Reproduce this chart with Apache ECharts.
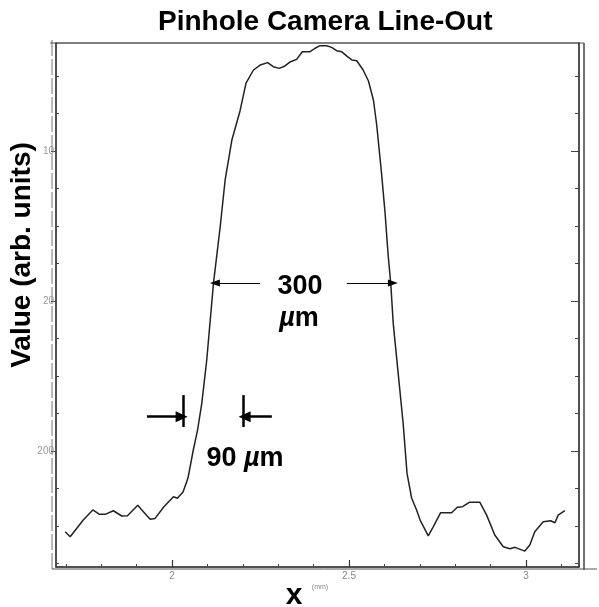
<!DOCTYPE html>
<html>
<head>
<meta charset="utf-8">
<script src="https://cdn.jsdelivr.net/npm/echarts@6/dist/echarts.min.js"></script>
<style>
  html, body { margin: 0; padding: 0; background: #fff; }
  #chart { width: 599px; height: 607px; }
</style>
</head>
<body>
<div id="chart"></div>
<script>
// line-out (x in mm, value in arb. units)
var xs = [1.698, 1.712, 1.749, 1.776, 1.795, 1.811, 1.834, 1.858, 1.874, 1.903,
  1.919, 1.938, 1.952, 1.977, 2.004, 2.015, 2.031, 2.045, 2.060, 2.072,
  2.084, 2.098, 2.117, 2.136, 2.150, 2.169, 2.192, 2.209, 2.230, 2.249,
  2.270, 2.286, 2.303, 2.319, 2.333, 2.352, 2.368, 2.390, 2.404, 2.418,
  2.437, 2.451, 2.465, 2.479, 2.494, 2.508, 2.522, 2.540, 2.555, 2.569,
  2.578, 2.592, 2.602, 2.611, 2.618, 2.625, 2.639, 2.653, 2.664, 2.677,
  2.691, 2.701, 2.724, 2.738, 2.759, 2.790, 2.806, 2.821, 2.840, 2.870,
  2.889, 2.912, 2.936, 2.955, 2.969, 2.997, 3.011, 3.025, 3.049, 3.070,
  3.082, 3.091, 3.110];
var values = [146.2, 142.9, 154.0, 160.7, 157.8, 157.8, 160.2, 156.7, 156.9, 163.8,
  159.5, 154.5, 155.1, 162.9, 169.5, 168.5, 172.7, 182.0, 200.7, 214.0,
  231.8, 260.7, 311.8, 349.5, 380.7, 407.3, 426.7, 445.3, 454.0, 457.3,
  458.9, 456.2, 455.1, 456.7, 459.3, 461.1, 466.2, 466.2, 468.5, 470.2,
  470.2, 469.1, 466.9, 466.2, 463.3, 460.7, 460.2, 454.0, 446.7, 434.0,
  418.0, 385.1, 358.5, 329.5, 311.8, 285.1, 251.8, 218.5, 185.1, 168.7,
  160.7, 154.0, 143.5, 149.5, 158.9, 158.9, 162.5, 162.9, 165.8, 165.8,
  157.3, 144.0, 136.2, 134.9, 135.8, 133.3, 137.3, 146.2, 152.9, 153.5,
  152.2, 157.3, 160.2];

var xMajorTicks = [2, 2.5, 3];
var xTickLabels = ['2', '2.5', '3'];
var xMinorTicks = [1.7, 1.8, 1.9, 2.1, 2.2, 2.3, 2.4, 2.6, 2.7, 2.8, 2.9, 3.1];
var yMajorTicks = [200, 300, 400];
var yTickLabels = ['200', '20', '10'];   // as printed on the scan
var yMinorTicks = [125, 150, 175, 225, 250, 275, 325, 350, 375, 425, 450];

// width markers: [from x, to x, at value]
var arrows300 = [[2.249, 2.121, 312], [2.494, 2.624, 312]];
var arrows90 = [[1.929, 2.027, 222.9], [2.282, 2.205, 222.9]];
var bars90 = [[2.032, 216, 237.3], [2.200, 216, 237.3]];

var X_MIN = 1.672, X_MAX = 3.15, Y_MIN = 122.7, Y_MAX = 472;
var FONT = '"Liberation Sans", Arial, sans-serif';

function pickLabel(ticks, labels) {
  return function (v) {
    for (var i = 0; i < ticks.length; i++) {
      if (Math.abs(ticks[i] - v) < 1e-6) return labels[i];
    }
    return '';
  };
}

var lineData = xs.map(function (x, i) { return [x, values[i]]; });

var markData = [];
arrows300.forEach(function (a) {
  markData.push([
    { coord: [a[0], a[2]], symbol: 'none' },
    { coord: [a[1], a[2]], symbol: 'triangle', symbolSize: [7, 10], symbolRotate: a[1] < a[0] ? 90 : -90,
      lineStyle: { width: 1 } }
  ]);
});
arrows90.forEach(function (a) {
  markData.push([
    { coord: [a[0], a[2]], symbol: 'none' },
    { coord: [a[1], a[2]], symbol: 'triangle', symbolSize: [11, 12], symbolRotate: a[1] < a[0] ? 90 : -90,
      lineStyle: { width: 2.5 } }
  ]);
});
bars90.forEach(function (b) {
  markData.push([
    { coord: [b[0], b[1]], symbol: 'none' },
    { coord: [b[0], b[2]], symbol: 'none', lineStyle: { width: 2.5 } }
  ]);
});

var baseX = { type: 'value', min: X_MIN, max: X_MAX, position: 'bottom',
  splitLine: { show: false } };
var baseY = { type: 'value', min: Y_MIN, max: Y_MAX, splitLine: { show: false } };

var option = {
  animation: false,
  backgroundColor: '#fff',
  title: {
    text: 'Pinhole Camera Line-Out',
    left: 153,
    top: 3,
    textStyle: { fontFamily: FONT, fontSize: 28, fontWeight: 'bold', color: '#000' }
  },
  grid: { left: 56, right: 20, top: 43, bottom: 40, show: true, borderColor: '#555', borderWidth: 1 },
  xAxis: [
    Object.assign({}, baseX, {
      axisLine: { show: true, onZero: false, lineStyle: { color: '#333', width: 1.5 } },
      axisTick: { show: true, inside: true, length: 7, customValues: xMajorTicks,
        lineStyle: { color: '#333', width: 1.2 } },
      axisLabel: { show: true, customValues: xMajorTicks, formatter: pickLabel(xMajorTicks, xTickLabels),
        fontFamily: FONT, fontSize: 10, color: '#888', margin: 4 }
    }),
    Object.assign({}, baseX, {
      axisLine: { show: false, onZero: false },
      axisTick: { show: true, inside: true, length: 3, customValues: xMinorTicks,
        lineStyle: { color: '#444', width: 1 } },
      axisLabel: { show: false }
    })
  ],
  yAxis: [
    Object.assign({}, baseY, {
      position: 'left',
      axisLine: { show: true, onZero: false, lineStyle: { color: '#333', width: 1.5 } },
      axisTick: { show: true, inside: false, length: 5, customValues: yMajorTicks,
        lineStyle: { color: '#444', width: 1 } },
      axisLabel: { show: true, customValues: yMajorTicks, formatter: pickLabel(yMajorTicks, yTickLabels),
        fontFamily: FONT, fontSize: 10, color: '#999', margin: 2 }
    }),
    Object.assign({}, baseY, {
      position: 'left',
      axisLine: { show: false, onZero: false },
      axisTick: { show: true, inside: true, length: 3, customValues: yMinorTicks,
        lineStyle: { color: '#444', width: 1 } },
      axisLabel: { show: false }
    }),
    Object.assign({}, baseY, {
      position: 'right',
      axisLine: { show: true, onZero: false, lineStyle: { color: '#333', width: 1.5 } },
      axisTick: { show: true, inside: true, length: 8, customValues: yMajorTicks,
        lineStyle: { color: '#444', width: 1 } },
      axisLabel: { show: false }
    }),
    Object.assign({}, baseY, {
      position: 'right',
      axisLine: { show: false, onZero: false },
      axisTick: { show: true, inside: true, length: 4, customValues: yMinorTicks,
        lineStyle: { color: '#444', width: 1 } },
      axisLabel: { show: false }
    })
  ],
  series: [{
    type: 'line',
    data: lineData,
    showSymbol: false,
    symbol: 'none',
    smooth: false,
    lineStyle: { color: '#222', width: 1.5 },
    markLine: {
      silent: true,
      symbol: 'none',
      label: { show: false },
      emphasis: { disabled: true },
      lineStyle: { color: '#000', type: 'solid', width: 1 },
      data: markData
    }
  }],
  graphic: [
    // scanned frame: outer rules
    { type: 'line', shape: { x1: 52, y1: 40, x2: 52, y2: 570 },
      style: { stroke: '#777', lineWidth: 1, lineDash: [16, 3] } },
    { type: 'line', shape: { x1: 584, y1: 43, x2: 584, y2: 570 },
      style: { stroke: '#444', lineWidth: 1.5 } },
    { type: 'line', shape: { x1: 52, y1: 569, x2: 597, y2: 569 },
      style: { stroke: '#555', lineWidth: 1 } },
    { type: 'line', shape: { x1: 50, y1: 43, x2: 584, y2: 43 },
      style: { stroke: '#555', lineWidth: 1 } },
    // axis titles
    { type: 'text', x: 22, y: 255, rotation: Math.PI / 2,
      style: { text: 'Value (arb. units)', font: 'bold 28px ' + FONT, fill: '#000',
        align: 'center', verticalAlign: 'middle' } },
    { type: 'text', x: 294, y: 596,
      style: { text: 'x', font: 'bold 30px ' + FONT, fill: '#000',
        align: 'center', verticalAlign: 'middle' } },
    { type: 'text', x: 320, y: 587,
      style: { text: '(mm)', font: '7px ' + FONT, fill: '#888',
        align: 'center', verticalAlign: 'middle' } },
    // width annotations
    { type: 'text', x: 300, y: 287,
      style: { text: '300', font: 'bold 27px ' + FONT, fill: '#000',
        align: 'center', verticalAlign: 'middle' } },
    { type: 'text', x: 299, y: 319,
      style: { text: '{i|\u00b5}m', font: 'bold 27px ' + FONT, fill: '#000',
        align: 'center', verticalAlign: 'middle',
        rich: { i: { font: 'italic bold 27px ' + FONT, fill: '#000' } } } },
    { type: 'text', x: 245, y: 459,
      style: { text: '90 {i|\u00b5}m', font: 'bold 27px ' + FONT, fill: '#000',
        align: 'center', verticalAlign: 'middle',
        rich: { i: { font: 'italic bold 27px ' + FONT, fill: '#000' } } } }
  ]
};

var chart = echarts.init(document.getElementById('chart'));
chart.setOption(option);
</script>
</body>
</html>
